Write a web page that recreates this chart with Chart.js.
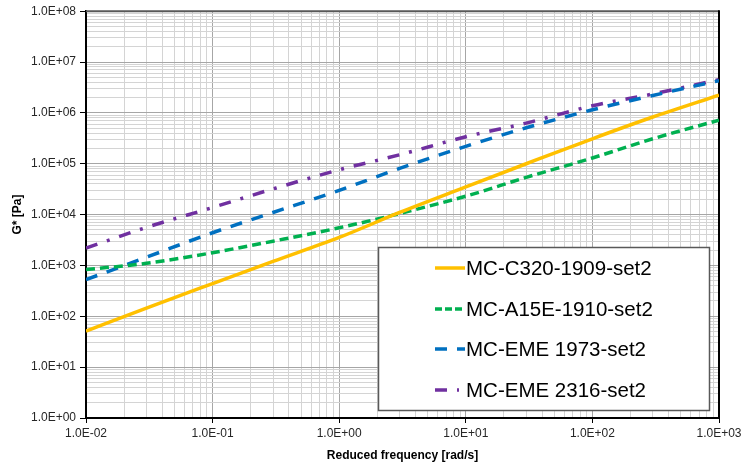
<!DOCTYPE html>
<html>
<head>
<meta charset="utf-8">
<script src="https://cdn.jsdelivr.net/npm/chart.js@4/dist/chart.umd.min.js"></script>
<style>
  html, body { margin: 0; padding: 0; background: #fff; }
  #wrap { width: 742px; height: 463px; }
</style>
</head>
<body>
<div id="wrap"><canvas id="myChart" width="742" height="463"></canvas></div>
<script>
// reduced frequency (rad/s)
const freq = [0.01, 0.03, 0.1, 0.3, 1, 3, 10, 30, 100, 300, 1000];

// G* (Pa) per mix
const c320 = [51, 145, 440, 1200, 3550, 1.1e4, 3.5e4, 1.0e5, 3.1e5, 8.3e5, 2.24e6];
const a15e = [830, 1100, 1780, 3000, 5500, 1.05e4, 2.3e4, 5.4e4, 1.3e5, 3.1e5, 7.2e5];
const eme1973 = [525, 1450, 4400, 1.1e4, 3.0e4, 8.1e4, 2.2e5, 5.1e5, 1.15e6, 2.2e6, 4.3e6];
const eme2316 = [2200, 5600, 1.38e4, 3.2e4, 7.6e4, 1.5e5, 3.4e5, 6.3e5, 1.38e6, 2.35e6, 4.5e6];

const seriesNames = ['MC-C320-1909-set2', 'MC-A15E-1910-set2', 'MC-EME 1973-set2', 'MC-EME 2316-set2'];

const xTickLabels = ['1.0E-02', '1.0E-01', '1.0E+00', '1.0E+01', '1.0E+02', '1.0E+03'];
const yTickLabels = ['1.0E+00', '1.0E+01', '1.0E+02', '1.0E+03', '1.0E+04', '1.0E+05', '1.0E+06', '1.0E+07', '1.0E+08'];

const FONT = "Arial, 'Liberation Sans', sans-serif";

function toPoints(ys) {
    return freq.map((f, i) => ({ x: f, y: ys[i] }));
}

function decadeIndex(v, firstExp) {
    const e = Math.log10(v);
    const r = Math.round(e);
    if (Math.abs(e - r) < 1e-6) return r - firstExp;
    return -1;
}

// log grid: 1..9 per decade
function logTicks(firstExp, lastExp) {
    const out = [];
    for (let e = firstExp; e <= lastExp; e++) {
        for (let m = 1; m <= 9; m++) {
            if (e === lastExp && m > 1) break;
            out.push({ value: m * Math.pow(10, e) });
        }
    }
    return out;
}

function gridColor(firstExp) {
    return ctx => (ctx.tick && decadeIndex(ctx.tick.value, firstExp) >= 0) ? '#a6a6a6' : '#d4d4d4';
}
function tickColor(firstExp) {
    return ctx => (ctx.tick && decadeIndex(ctx.tick.value, firstExp) >= 0) ? '#000' : 'rgba(0,0,0,0)';
}

const frame = {
    id: 'frame',
    beforeDatasetsDraw(chart) {
        const a = chart.chartArea;
        const c = chart.ctx;
        c.save();
        c.lineWidth = 2;
        c.strokeStyle = '#595959';
        c.beginPath();
        c.moveTo(a.left, a.top);
        c.lineTo(a.right, a.top);
        c.stroke();
        c.strokeStyle = '#000';
        c.beginPath();
        c.moveTo(a.right, a.top - 1);
        c.lineTo(a.right, a.bottom);
        c.stroke();
        c.restore();
    }
};

const boxLegend = {
    id: 'boxLegend',
    afterDraw(chart) {
        const c = chart.ctx;
        c.save();
        c.fillStyle = '#fff';
        c.fillRect(378, 247, 332, 164);
        c.strokeStyle = '#595959';
        c.lineWidth = 1.5;
        c.strokeRect(378.5, 247.5, 331, 163);
        const rows = [268, 309, 349, 390];
        chart.data.datasets.forEach((ds, i) => {
            const y = rows[i];
            c.strokeStyle = ds.borderColor;
            c.lineWidth = 3.5;
            c.setLineDash(ds.legendDash || []);
            c.beginPath();
            c.moveTo(435, y);
            c.lineTo(465, y);
            c.stroke();
            c.setLineDash([]);
            c.fillStyle = '#000';
            c.font = '20.5px ' + FONT;
            c.textBaseline = 'middle';
            c.fillText(ds.label, 466, y + 1);
        });
        c.restore();
    }
};

const ctx = document.getElementById('myChart').getContext('2d');
new Chart(ctx, {
    type: 'line',
    data: {
        datasets: [
            {
                label: seriesNames[0],
                data: toPoints(c320),
                borderColor: '#FFC000',
                borderWidth: 3.5,
                legendDash: []
            },
            {
                label: seriesNames[1],
                data: toPoints(a15e),
                borderColor: '#00B050',
                borderWidth: 3.5,
                borderDash: [9, 5],
                legendDash: [7, 3]
            },
            {
                label: seriesNames[2],
                data: toPoints(eme1973),
                borderColor: '#0070C0',
                borderWidth: 3.5,
                borderDash: [12, 10],
                legendDash: [12, 10]
            },
            {
                label: seriesNames[3],
                data: toPoints(eme2316),
                borderColor: '#7030A0',
                borderWidth: 3.5,
                borderDash: [12, 10, 3, 10],
                legendDash: [12, 10, 2, 10]
            }
        ]
    },
    options: {
        responsive: false,
        animation: false,
        layout: { padding: { left: 0, top: 10, right: 23, bottom: 0 } },
        elements: {
            point: { radius: 0 },
            line: { cubicInterpolationMode: 'monotone', fill: false }
        },
        plugins: {
            legend: { display: false },
            tooltip: { enabled: false }
        },
        scales: {
            x: {
                type: 'logarithmic',
                min: 0.01,
                max: 1000,
                afterBuildTicks: s => { s.ticks = logTicks(-2, 3); },
                afterFit: s => { s.height = 45; s.paddingRight = 0; },
                ticks: {
                    autoSkip: false,
                    maxRotation: 0,
                    padding: 3,
                    color: '#262626',
                    font: { family: FONT, size: 12 },
                    callback: v => { const i = decadeIndex(v, -2); return i >= 0 ? xTickLabels[i] : ''; }
                },
                grid: { color: gridColor(-2), tickColor: tickColor(-2), tickLength: 5, lineWidth: 1 },
                border: { color: '#000', width: 2 },
                title: {
                    display: true,
                    text: 'Reduced frequency [rad/s]',
                    color: '#000',
                    font: { family: FONT, size: 12, weight: 'bold' },
                    padding: { top: 0, bottom: 0 }
                }
            },
            y: {
                type: 'logarithmic',
                min: 1,
                max: 1e8,
                afterBuildTicks: s => { s.ticks = logTicks(0, 8); },
                afterFit: s => { s.width = 86; },
                ticks: {
                    autoSkip: false,
                    padding: 4,
                    color: '#262626',
                    font: { family: FONT, size: 12 },
                    callback: v => { const i = decadeIndex(v, 0); return i >= 0 ? yTickLabels[i] : ''; }
                },
                grid: { color: gridColor(0), tickColor: tickColor(0), tickLength: 6, lineWidth: 1 },
                border: { color: '#000', width: 2 },
                title: {
                    display: true,
                    text: 'G* [Pa]',
                    color: '#000',
                    font: { family: FONT, size: 12, weight: 'bold' },
                    padding: { top: 10, bottom: 0 }
                }
            }
        }
    },
    plugins: [frame, boxLegend]
});
</script>
</body>
</html>
